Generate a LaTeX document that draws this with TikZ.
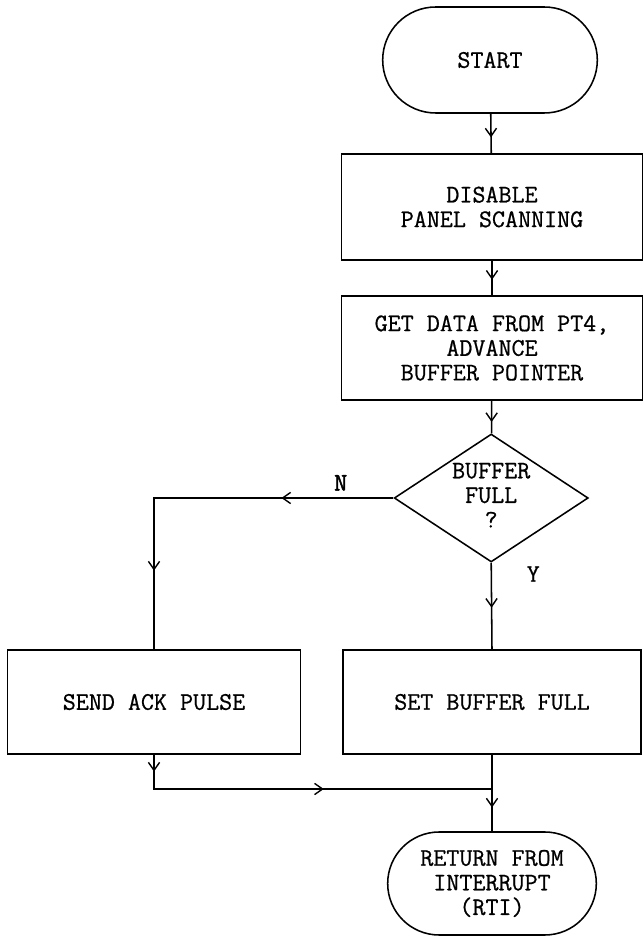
\documentclass[tikz,border=0pt]{standalone}
\usepackage{fontspec}
\setmonofont{Latin Modern Mono}[FakeBold=0.7]
\usetikzlibrary{arrows.meta,positioning,shapes.geometric,shapes.misc,decorations.markings}

\begin{document}
\begin{tikzpicture}[
  font=\ttfamily\fontsize{18}{17.5}\selectfont,
  term/.style={draw,rounded rectangle,line width=1.1pt,minimum width=5.5cm,
    minimum height=2.6cm,align=center},
  blk/.style={draw,line width=1.1pt,minimum width=7.5cm,minimum height=2.6cm,align=center},
  cond/.style={draw,diamond,aspect=1.5,inner sep=0pt,line width=1.1pt,
    minimum width=4.85cm,minimum height=3.2cm,align=center},
  sig/.style={line width=1.1pt},
  midarr/.style={postaction={decorate,decoration={markings,
    mark=at position #1 with {\arrow{Straight Barb[length=2mm,width=2.8mm,line width=1pt]}}}}},
  lab/.style={font=\ttfamily\fontsize{18}{17.5}\selectfont}]

  \useasboundingbox (0,0) rectangle (16.1,23.425);

  % ================= main column (x=12.3) =================
  \node[term,minimum width=5.6cm,minimum height=2.65cm] (start) at (12.25,21.925) {START};
  \node[blk,minimum width=7.525cm,minimum height=2.65cm] (disable) at (12.3,18.25) {DISABLE\\PANEL SCANNING};
  \node[blk,minimum width=7.525cm] (getdata) at (12.3,14.725) {GET DATA FROM PT4,\\ADVANCE\\BUFFER POINTER};
  \node[cond] (full) at (12.28,10.975)
    {\raisebox{-5pt}{\begin{tabular}{@{}c@{}}BUFFER\\FULL\\?\end{tabular}}};

  % ================= branches =================
  \node[blk,minimum width=7.325cm] (sendack) at (3.85,5.875) {SEND ACK PULSE};
  \node[blk,minimum width=7.45cm] (setfull) at (12.3,5.875) {SET BUFFER FULL};
  \coordinate (join) at (12.3,3.7);
  \node[term,minimum width=5.45cm,minimum height=2.575cm] (rti) at (12.3,1.3375) {RETURN FROM\\INTERRUPT\\(RTI)};

  % signal path
  \draw[sig,midarr=0.6] (start) -- (disable);
  \draw[sig,midarr=0.55] (disable) -- (getdata);
  \draw[sig,midarr=0.65] (getdata) -- (full);
  \draw[sig,midarr=2.8cm,midarr=7.8cm] (full.west) -| (sendack.north)
    node[lab,pos=0.11,above=0.05cm] {\addfontfeatures{FakeBold=2}N};
  \draw[sig,midarr=0.52] (full.south) -- (setfull.north)
    node[lab,pos=0.13,right=0.75cm] {Y};

  % merge into RTI
  \draw[sig,midarr=0.42cm,midarr=5.1cm] (sendack.south) |- (join);
  \draw[sig,midarr=0.69] (setfull.south) -- (rti.north);
\end{tikzpicture}
\end{document}
